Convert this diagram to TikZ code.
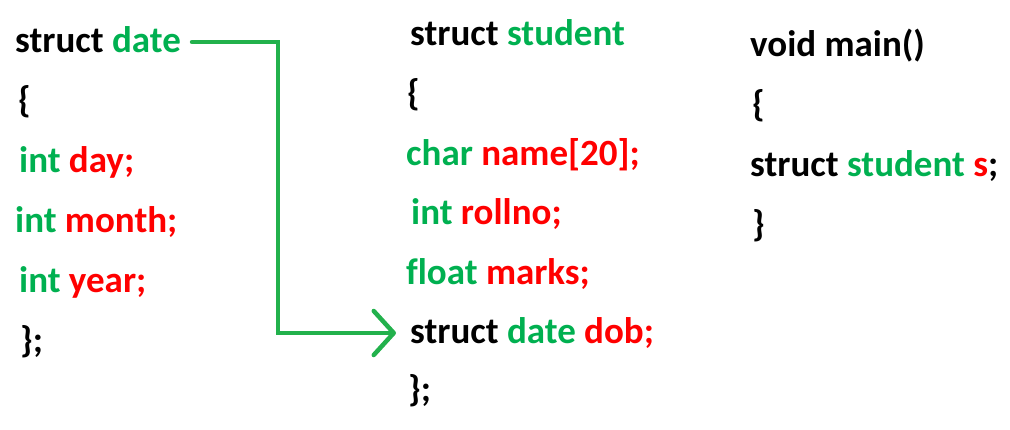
\documentclass[tikz,border=0pt]{standalone}
\usepackage{fontspec}
\setmainfont{Carlito}[Ligatures=CommonOff]
\usetikzlibrary{arrows.meta}
\definecolor{kw-green}{RGB}{0,176,80}
\definecolor{id-red}{RGB}{255,0,0}
\definecolor{link-green}{RGB}{34,177,76}
\newcommand{\kw}[1]{\textcolor{kw-green}{#1}}
\newcommand{\id}[1]{\textcolor{id-red}{#1}}
\tikzset{
    code-line/.style = {anchor=base west, inner sep=0pt, font=\bfseries\fontsize{37}{40}\selectfont},
    link-arrow/.style = {draw=link-green, line width=4.5pt, line cap=round, -{Straight Barb[round, length=20pt, width=44pt]}},
}

\begin{document}
\begin{tikzpicture}[x=1pt, y=-1pt]
\useasboundingbox (0,0) rectangle (1010,429);
\node[code-line] (date-head) at (15,52) {struct \kw{date}};
\node[code-line] (date-open) at (18,112) {\{};
\node[code-line] (date-day) at (19,172) {\kw{int} \id{day;}};
\node[code-line] (date-month) at (15,232) {\kw{int} \id{month;}};
\node[code-line] (date-year) at (19,292) {\kw{int} \id{year;}};
\node[code-line] (date-close) at (20,352) {\};};

\node[code-line] (stud-head) at (410,45) {struct \kw{student}};
\node[code-line] (stud-open) at (407,105) {\{};
\node[code-line] (stud-name) at (406,165) {\kw{char} \id{name[20];}};
\node[code-line] (stud-roll) at (411,224) {\kw{int} \id{rollno;}};
\node[code-line] (stud-marks) at (406,284) {\kw{float} \id{marks;}};
\node[code-line] (stud-dob) at (410,343) {struct \kw{date} \id{dob;}};
\node[code-line] (stud-close) at (408,401) {\};};

\node[code-line] (main-head) at (750,56) {void main()};
\node[code-line] (main-open) at (752,116) {\{};
\node[code-line] (main-var) at (750,176) {struct \kw{student} \id{s};};
\node[code-line] (main-close) at (752,236) {\}};

\coordinate (bend) at (278,333);
\draw[link-arrow] ([xshift=11pt, yshift=10pt]date-head.base east) -| (bend) |- ([xshift=-14pt, yshift=10pt]stud-dob.base west);
\end{tikzpicture}
\end{document}
